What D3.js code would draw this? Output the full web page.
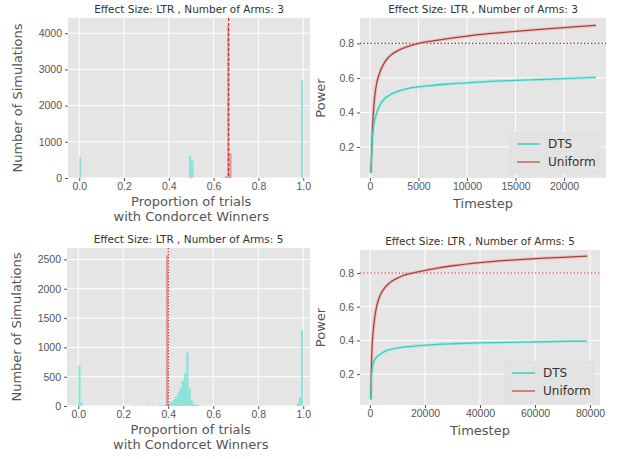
<!DOCTYPE html>
<html>
<head>
<meta charset="utf-8">
<script src="https://cdn.jsdelivr.net/npm/d3@7"></script>
<style>
  body { margin: 0; background: #fff; }
  svg { font-family: "DejaVu Sans", sans-serif; }
  .tick text { fill: #555; font-size: 10.5px; }
  .tick line { stroke: #555; }
  .domain { display: none; }
</style>
</head>
<body>
<svg id="chart" width="621" height="459"></svg>
<script>
// histogram bins (left edge of 0.01 wide bins) and counts
const binWidth = 0.01;
const hist3DtsBins = [0.00, 0.49, 0.50, 0.99];
const hist3DtsCounts = [570, 610, 480, 2700];
const hist3UniBins = [0.65, 0.66, 0.67];
const hist3UniCounts = [60, 4210, 680];
const hist3UniMark = 0.667;

const hist5DtsBins = [0.00, 0.01, 0.25, 0.28, 0.30, 0.33, 0.36, 0.38, 0.40, 0.41, 0.42, 0.43, 0.44, 0.45, 0.46, 0.47, 0.48, 0.49, 0.50, 0.51, 0.52, 0.53, 0.55, 0.97, 0.98, 0.99];
const hist5DtsCounts = [700, 60, 10, 10, 15, 15, 20, 25, 40, 70, 110, 160, 230, 320, 430, 560, 910, 300, 90, 35, 20, 15, 10, 40, 150, 1290];
const hist5UniBins = [0.39];
const hist5UniCounts = [2567];
const hist5UniMark = 0.40;

const histXTicks = [0.0, 0.2, 0.4, 0.6, 0.8, 1.0];
const hist3YTicks = [0, 1000, 2000, 3000, 4000];
const hist5YTicks = [0, 500, 1000, 1500, 2000, 2500];

// power curves
const steps3 = [100, 250, 400, 600, 1000, 1500, 2000, 3000, 4000, 5000, 6500, 8000, 10000, 12500, 15000, 17500, 20000, 23300];
const dts3 = [0.05, 0.25, 0.33, 0.38, 0.44, 0.48, 0.50, 0.525, 0.54, 0.548, 0.557, 0.565, 0.572, 0.58, 0.586, 0.591, 0.596, 0.603];
const uniform3 = [0.05, 0.30, 0.44, 0.54, 0.63, 0.69, 0.725, 0.762, 0.785, 0.80, 0.815, 0.828, 0.843, 0.858, 0.87, 0.881, 0.892, 0.905];
const steps5 = [250, 600, 1200, 2400, 3500, 4800, 7000, 10000, 13000, 17000, 20000, 25000, 30000, 40000, 50000, 60000, 70000, 79000];
const dts5 = [0.05, 0.20, 0.265, 0.30, 0.315, 0.33, 0.345, 0.355, 0.362, 0.367, 0.372, 0.377, 0.38, 0.385, 0.388, 0.391, 0.394, 0.396];
const uniform5 = [0.05, 0.30, 0.46, 0.60, 0.66, 0.70, 0.74, 0.77, 0.79, 0.805, 0.815, 0.83, 0.843, 0.862, 0.875, 0.885, 0.893, 0.90];
const powerTarget = 0.8;
const power3XTicks = [0, 5000, 10000, 15000, 20000];
const power5XTicks = [0, 20000, 40000, 60000, 80000];
const powerYTicks = [0.2, 0.4, 0.6, 0.8];
const seriesNames = ['DTS', 'Uniform'];

const titles = ['Effect Size: LTR , Number of Arms: 3', 'Effect Size: LTR , Number of Arms: 5'];

const bg = '#e5e5e5';
const dtsColor = '#36d0c2';
const uniColor = '#a8443f';
const dtsFill = 'rgba(64,224,208,0.55)';
const uniFill = 'rgba(205,92,92,0.5)';

const svg = d3.select('#chart');

function panelBase(box, x, y, xTicks, yTicks, xFmt, yFmt, title) {
  const g = svg.append('g');
  g.append('rect').attr('x', box.x0).attr('y', box.y0)
    .attr('width', box.x1 - box.x0).attr('height', box.y1 - box.y0).attr('fill', bg);
  g.selectAll('.gx').data(xTicks).enter().append('line')
    .attr('x1', d => x(d)).attr('x2', d => x(d)).attr('y1', box.y0).attr('y2', box.y1)
    .attr('stroke', '#fff').attr('stroke-width', 1);
  g.selectAll('.gy').data(yTicks).enter().append('line')
    .attr('y1', d => y(d)).attr('y2', d => y(d)).attr('x1', box.x0).attr('x2', box.x1)
    .attr('stroke', '#fff').attr('stroke-width', 1);
  svg.append('g').attr('transform', `translate(0,${box.y1})`)
    .call(d3.axisBottom(x).tickValues(xTicks).tickFormat(xFmt).tickSize(3).tickPadding(2));
  svg.append('g').attr('transform', `translate(${box.x0},0)`)
    .call(d3.axisLeft(y).tickValues(yTicks).tickFormat(yFmt).tickSize(3).tickPadding(3));
  svg.append('text').attr('x', (box.x0 + box.x1) / 2).attr('y', box.y0 - 5)
    .attr('text-anchor', 'middle').attr('font-size', 10.5).attr('fill', '#333').text(title);
  return g;
}

function histPanel(box, dtsBins, dtsCounts, uniBins, uniCounts, mark, yTicks, title, dash) {
  const yMax = d3.max(uniCounts.concat(dtsCounts)) * 1.05;
  const x = d3.scaleLinear().domain([-0.05, 1.03]).range([box.x0, box.x1]);
  const y = d3.scaleLinear().domain([0, yMax]).range([box.y1, box.y0]);
  const g = panelBase(box, x, y, histXTicks, yTicks, d3.format('.1f'), d3.format('d'), title);
  const dts = dtsBins.map((b, i) => ({ b, c: dtsCounts[i] }));
  const uni = uniBins.map((b, i) => ({ b, c: uniCounts[i] }));
  g.selectAll('.bd').data(dts).enter().append('rect')
    .attr('x', d => x(d.b)).attr('width', d => x(d.b + binWidth) - x(d.b))
    .attr('y', d => y(d.c)).attr('height', d => y(0) - y(d.c)).attr('fill', dtsFill);
  g.selectAll('.bu').data(uni).enter().append('rect')
    .attr('x', d => x(d.b)).attr('width', d => x(d.b + binWidth) - x(d.b))
    .attr('y', d => y(d.c)).attr('height', d => y(0) - y(d.c)).attr('fill', uniFill);
  g.append('line').attr('x1', x(mark)).attr('x2', x(mark)).attr('y1', box.y0).attr('y2', box.y1)
    .attr('stroke', '#d62728').attr('stroke-width', 1.2).attr('stroke-dasharray', dash);
  const cx = box.x0 - 46, cy = (box.y0 + box.y1) / 2;
  svg.append('text').attr('transform', `translate(${cx},${cy}) rotate(-90)`)
    .attr('text-anchor', 'middle').attr('font-size', 13).attr('fill', '#555').text('Number of Simulations');
  svg.append('text').attr('x', x(0.5)).attr('y', box.y1 + 28)
    .attr('text-anchor', 'middle').attr('font-size', 13).attr('fill', '#555').text('Proportion of trials');
  svg.append('text').attr('x', x(0.5)).attr('y', box.y1 + 43)
    .attr('text-anchor', 'middle').attr('font-size', 13).attr('fill', '#555').text('with Condorcet Winners');
}

function powerPanel(box, xDomain, yDomain, steps, dts, uni, xTicks, title, legend) {
  const x = d3.scaleLinear().domain(xDomain).range([box.x0, box.x1]);
  const y = d3.scaleLinear().domain(yDomain).range([box.y1, box.y0]);
  const g = panelBase(box, x, y, xTicks, powerYTicks, d3.format('d'), d3.format('.1f'), title);
  const line = d3.line().x(d => x(d[0])).y(d => y(d[1])).curve(d3.curveMonotoneX);
  g.append('line').attr('x1', box.x0).attr('x2', box.x1).attr('y1', y(powerTarget)).attr('y2', y(powerTarget))
    .attr('stroke', '#d62728').attr('stroke-width', 1.2).attr('stroke-dasharray', '1.5,2');
  g.append('path').attr('d', line(steps.map((s, i) => [s, uni[i]])))
    .attr('fill', 'none').attr('stroke', '#f0a8a8').attr('stroke-width', 3.2).attr('opacity', 0.6);
  g.append('path').attr('d', line(steps.map((s, i) => [s, dts[i]])))
    .attr('fill', 'none').attr('stroke', '#9fe8e0').attr('stroke-width', 3.2).attr('opacity', 0.6);
  g.append('path').attr('d', line(steps.map((s, i) => [s, uni[i]])))
    .attr('fill', 'none').attr('stroke', uniColor).attr('stroke-width', 1.3);
  g.append('path').attr('d', line(steps.map((s, i) => [s, dts[i]])))
    .attr('fill', 'none').attr('stroke', dtsColor).attr('stroke-width', 1.3);

  const lg = svg.append('g').attr('transform', `translate(${legend.x},${legend.y})`);
  lg.append('rect').attr('x', 0).attr('y', 0).attr('width', legend.w).attr('height', 40)
    .attr('fill', '#e3e3e3').attr('stroke', '#dddddd');
  seriesNames.forEach((name, i) => {
    lg.append('line').attr('x1', 7).attr('x2', 30).attr('y1', 11 + i * 18).attr('y2', 11 + i * 18)
      .attr('stroke', i === 0 ? dtsColor : '#c8605c').attr('stroke-width', 1.5);
    lg.append('text').attr('x', 38).attr('y', 15 + i * 18).attr('font-size', 12)
      .attr('fill', '#333').text(name);
  });

  svg.append('text').attr('transform', `translate(${box.x0 - 35},${(box.y0 + box.y1) / 2}) rotate(-90)`)
    .attr('text-anchor', 'middle').attr('font-size', 13).attr('fill', '#555').text('Power');
  svg.append('text').attr('x', (box.x0 + box.x1) / 2).attr('y', box.y1 + 30)
    .attr('text-anchor', 'middle').attr('font-size', 13).attr('fill', '#555').text('Timestep');
}

histPanel({ x0: 68, x1: 310, y0: 18, y1: 178 }, hist3DtsBins, hist3DtsCounts, hist3UniBins, hist3UniCounts,
  hist3UniMark, hist3YTicks, titles[0], '3,2');
histPanel({ x0: 67, x1: 310, y0: 248, y1: 406 }, hist5DtsBins, hist5DtsCounts, hist5UniBins, hist5UniCounts,
  hist5UniMark, hist5YTicks, titles[1], '1.5,1.5');

powerPanel({ x0: 360, x1: 606, y0: 18, y1: 178 }, [-1030, 24330], [0.02, 0.9475], steps3, dts3, uniform3,
  power3XTicks, titles[0], { x: 510, y: 133, w: 90 });
powerPanel({ x0: 360, x1: 600, y0: 250, y1: 405 }, [-3640, 83640], [0.0166, 0.9365], steps5, dts5, uniform5,
  power5XTicks, titles[1], { x: 505, y: 362, w: 88 });
</script>
</body>
</html>
